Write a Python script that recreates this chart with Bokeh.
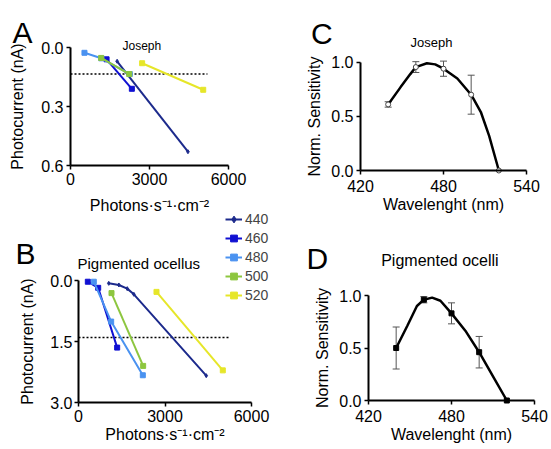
from bokeh.plotting import figure
from bokeh.models import (Range1d, FixedTicker, NumeralTickFormatter, Label, Legend,
                          LegendItem, Whisker, TeeHead, ColumnDataSource, LinearAxis)
from bokeh.embed import file_html
from bokeh.resources import INLINE

FONT = "Liberation Sans"

# ---------------- data ----------------
wavelength_labels = ["440", "460", "480", "500", "520"]
series_colors = ["#1c2a8c", "#1010d2", "#4a92f0", "#8dc63f", "#e6e629"]
series_markers = ["diamond", "square", "square", "square", "square"]

# Panel A: Joseph, photocurrent (nA) vs photons
a440_x = [1770, 4460]
a440_y = [0.07, 0.53]
a460_x = [1370, 2330]
a460_y = [0.06, 0.21]
a480_x = [530, 1170, 2250]
a480_y = [0.027, 0.055, 0.135]
a500_x = [1165, 2230]
a500_y = [0.053, 0.135]
a520_x = [2720, 5040]
a520_y = [0.08, 0.215]
a_thresh_x = [0, 5200]
a_thresh_y = [0.135, 0.135]

# Panel B: Pigmented ocellus
b440_x = [1050, 1400, 1690, 1920, 4430]
b440_y = [0.07, 0.11, 0.20, 0.34, 2.34]
b460_x = [323, 683, 1341]
b460_y = [0.03, 0.18, 1.65]
b480_x = [531, 1133, 2231]
b480_y = [0.03, 1.01, 2.33]
b500_x = [1145, 2242]
b500_y = [0.31, 2.10]
b520_x = [2705, 5005]
b520_y = [0.28, 2.21]
b_thresh_x = [0, 5270]
b_thresh_y = [1.40, 1.40]

photon_ticks = [0, 3000, 6000]
a_current_ticks = [0.0, 0.3, 0.6]
b_current_ticks = [0.0, 1.5, 3.0]
wl_ticks = [420, 480, 540]
sens_ticks = [0.0, 0.5, 1.0]

# Panel C: Joseph spectral sensitivity
c_wl = [440, 460, 480, 500, 520]
c_sens = [0.61, 0.955, 0.94, 0.70, 0.0]
c_err = [0.025, 0.05, 0.07, 0.18, 0.0]
c_fit_wl = [440, 449, 456, 460, 468, 474, 480, 490, 500, 507, 513, 520]
c_fit = [0.61, 0.77, 0.89, 0.955, 0.99, 0.98, 0.94, 0.85, 0.70, 0.54, 0.32, 0.0]

# Panel D: Pigmented ocelli spectral sensitivity
d_wl = [440, 460, 480, 500, 520]
d_sens = [0.50, 0.96, 0.83, 0.46, 0.0]
d_err = [0.20, 0.03, 0.10, 0.15, 0.0]
d_fit_wl = [440, 448, 455, 460, 466, 472, 480, 490, 500, 510, 520]
d_fit = [0.50, 0.71, 0.90, 0.96, 0.98, 0.95, 0.83, 0.665, 0.46, 0.23, 0.0]

# ---------------- canvas ----------------
W, H = 549, 447
p = figure(width=W, height=H, output_backend="svg", toolbar_location=None,
           x_range=Range1d(0, W), y_range=Range1d(H, 0),
           x_axis_location=None, y_axis_location=None,
           min_border=0, min_border_left=0, min_border_right=0,
           min_border_top=0, min_border_bottom=0)
p.outline_line_color = None
p.background_fill_color = "white"
p.border_fill_color = "white"
p.xgrid.visible = False
p.ygrid.visible = False


def prange(v0, p0, v1, p1, size, horizontal):
    # range such that value v0 sits at pixel p0 and v1 at pixel p1 (pixels from left/top)
    k = (v1 - v0) / (p1 - p0)
    if horizontal:
        return Range1d(start=v0 - p0 * k, end=v0 + (size - p0) * k)
    return Range1d(start=v0 + (size - p0) * k, end=v0 - p0 * k)


def style_axis(ax):
    ax.axis_line_width = 2
    ax.axis_line_color = "black"
    ax.major_tick_line_width = 1.5
    ax.major_tick_line_color = "black"
    ax.major_tick_out = 4
    ax.major_tick_in = 0
    ax.minor_tick_line_color = None
    ax.major_label_text_font = FONT
    ax.major_label_text_font_size = "16px"
    ax.major_label_text_color = "black"
    ax.axis_label_text_font = FONT
    ax.axis_label_text_font_size = "16px"
    ax.axis_label_text_font_style = "normal"
    ax.axis_label_text_color = "black"


def panel(name, xr, yr, xbounds, ybounds, xticks, yticks, xfmt, yfmt, xlabel, ylabel,
          xloc, yloc, x_tick_stand, xstand, y_tick_stand, ystand):
    p.extra_x_ranges[name + "x"] = xr
    p.extra_y_ranges[name + "y"] = yr
    xa = LinearAxis(x_range_name=name + "x", y_range_name=name + "y",
                    fixed_location=xloc, bounds=xbounds,
                    ticker=FixedTicker(ticks=xticks),
                    formatter=NumeralTickFormatter(format=xfmt), axis_label=xlabel)
    ya = LinearAxis(x_range_name=name + "x", y_range_name=name + "y",
                    fixed_location=yloc, bounds=ybounds,
                    ticker=FixedTicker(ticks=yticks),
                    formatter=NumeralTickFormatter(format=yfmt), axis_label=ylabel)
    style_axis(xa)
    style_axis(ya)
    xa.major_label_standoff = x_tick_stand
    xa.axis_label_standoff = xstand
    ya.major_label_standoff = y_tick_stand
    ya.axis_label_standoff = ystand
    p.add_layout(xa, "below")
    p.add_layout(ya, "left")
    return dict(x_range_name=name + "x", y_range_name=name + "y")


def photo_lines(rn, xs, ys, tx, ty):
    p.line(tx, ty, line_color="black", line_width=1.5, line_dash="2 2", **rn)
    items = []
    for x, y, c, m, lab in zip(xs, ys, series_colors, series_markers, wavelength_labels):
        r1 = p.line(x, y, line_color=c, line_width=2, **rn)
        r2 = p.scatter(x, y, marker=m, size=5 if m == "square" else 4,
                       fill_color=c, line_color=c, **rn)
        items.append(LegendItem(label=lab, renderers=[r1, r2]))
    return items


def spectral(rn, wl, s, err, fit_wl, fit, mfill, mline, marker):
    keep = [i for i, e in enumerate(err) if e > 0]
    src = ColumnDataSource(data=dict(
        x=[wl[i] for i in keep],
        upper=[s[i] + err[i] for i in keep],
        lower=[s[i] - err[i] for i in keep]))
    p.add_layout(Whisker(base="x", upper="upper", lower="lower", source=src,
                         line_color="#555555", line_width=1,
                         upper_head=TeeHead(size=7, line_color="#555555", line_width=1),
                         lower_head=TeeHead(size=7, line_color="#555555", line_width=1),
                         **rn))
    p.line(fit_wl, fit, line_color="black", line_width=2.5, **rn)
    p.scatter(wl, s, marker=marker, size=5, fill_color=mfill, line_color=mline, **rn)


def text(t, x, y, size):
    p.add_layout(Label(x=x, y=y, text=t, text_font=FONT, text_font_size=size,
                       text_baseline="alphabetic", text_align="left", text_color="black"))


# Panel A
rnA = panel("A", prange(0, 70, 6000, 228, W, True), prange(0.0, 47, 0.6, 165, H, False),
            (0, 6000), (0, 0.6), photon_ticks, a_current_ticks, "0", "0.0",
            "Photons·s⁻¹·cm⁻²", "Photocurrent (nA)", 0.6, 0, 3, 9, 3, 12)
photo_lines(rnA, [a440_x, a460_x, a480_x, a500_x, a520_x],
            [a440_y, a460_y, a480_y, a500_y, a520_y], a_thresh_x, a_thresh_y)

# Panel B
rnB = panel("B", prange(0, 78, 6000, 251, W, True), prange(0.0, 280, 3.0, 402, H, False),
            (0, 6000), (0, 3.0), photon_ticks, b_current_ticks, "0", "0.0",
            "Photons·s⁻¹·cm⁻²", "Photocurrent (nA)", 3.0, 0, 3, 1, 2, 11)
itemsB = photo_lines(rnB, [b440_x, b460_x, b480_x, b500_x, b520_x],
                     [b440_y, b460_y, b480_y, b500_y, b520_y], b_thresh_x, b_thresh_y)

# Panel C
rnC = panel("C", prange(420, 360, 540, 526, W, True), prange(1.0, 61.7, 0.0, 170, H, False),
            (420, 540), (0, 1.0), wl_ticks, sens_ticks, "0", "0.0",
            "Wavelenght (nm)", "Norm. Sensitivity", 0.0, 420, 5, 1, 3, 5)
spectral(rnC, c_wl, c_sens, c_err, c_fit_wl, c_fit, "white", "#444444", "circle")

# Panel D
rnD = panel("D", prange(420, 368, 540, 534, W, True), prange(1.0, 295, 0.0, 400, H, False),
            (420, 540), (0, 1.0), wl_ticks, sens_ticks, "0", "0.0",
            "Wavelenght (nm)", "Norm. Sensitivity", 0.0, 420, 5, 1, 3, 5)
spectral(rnD, d_wl, d_sens, d_err, d_fit_wl, d_fit, "black", "black", "square")

# legend (location: screen px from the canvas' bottom-left corner)
legend = Legend(items=itemsB, location=(225, H - 304),
                background_fill_alpha=0, border_line_alpha=0,
                label_text_font=FONT, label_text_font_size="14px",
                glyph_width=17, glyph_height=18, label_height=18,
                label_standoff=3, spacing=1, padding=0, margin=0)
p.add_layout(legend, "center")

# panel letters and titles
text("A", 12, 32, "30px")
text("Joseph", 122, 45, "12px")
text("B", 15, 253, "30px")
text("Pigmented ocellus", 77, 262.5, "15px")
text("C", 310.5, 33, "30px")
text("Joseph", 410, 41.5, "13px")
text("D", 306, 258, "30px")
text("Pigmented ocelli", 380.7, 260, "16px")

open("out.html", "w").write(file_html(p, INLINE))
